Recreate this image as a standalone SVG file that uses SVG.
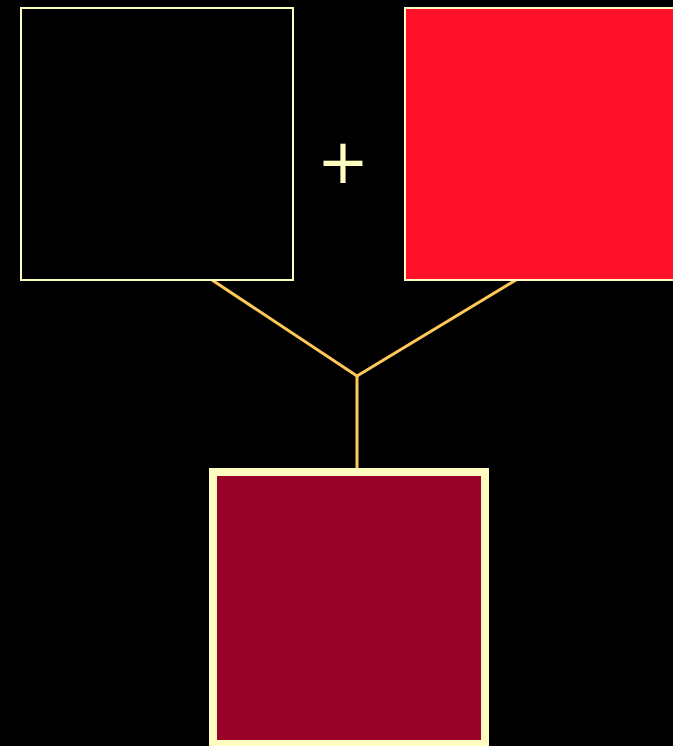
<svg xmlns="http://www.w3.org/2000/svg" width="673" height="746" viewBox="0 0 673 746">
<style>
.box{stroke:#fffcc0;stroke-width:2}
.conn{stroke:#ffc857;stroke-width:3;fill:none;stroke-linejoin:miter}
</style>
<rect width="673" height="746" fill="#000"/>
<g id="connectors">
<polyline class="conn" points="212,280 357,376 516,280"/>
<line class="conn" x1="357" y1="376" x2="357" y2="468"/>
</g>
<g id="box-black"><rect class="box" x="21" y="8" width="272" height="272" fill="#000"/></g>
<g id="plus"><text x="343" y="183" font-family="DejaVu Sans, sans-serif" font-size="62" fill="#fffcc0" text-anchor="middle">+</text></g>
<g id="box-red"><rect class="box" x="405" y="8" width="272" height="272" fill="#ff1229"/></g>
<g id="box-result"><rect x="213" y="472" width="272" height="272" fill="#9a0329" stroke="#fffcc0" stroke-width="8"/></g>
</svg>
